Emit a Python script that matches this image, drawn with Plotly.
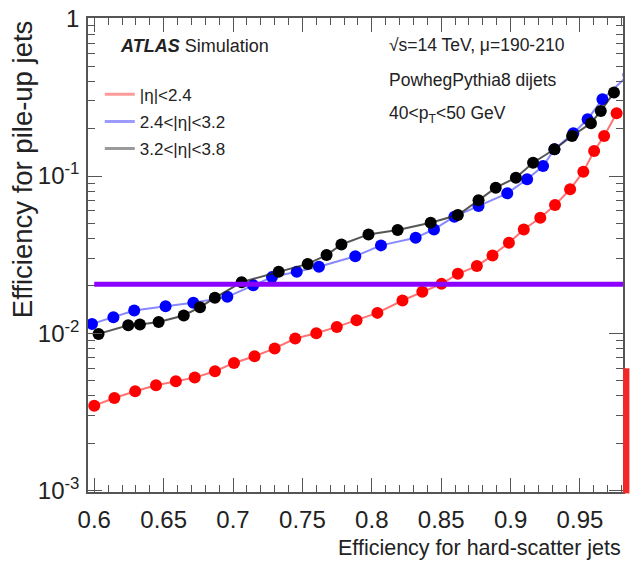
import plotly.graph_objects as go

# ---------------- data ----------------
eff_hs_red = [0.600, 0.6145, 0.6295, 0.6445, 0.6588, 0.6724, 0.687, 0.7007, 0.7155, 0.730,
              0.7448, 0.760, 0.7748, 0.789, 0.804, 0.8221, 0.8364, 0.8502, 0.862, 0.8757,
              0.887, 0.8988, 0.9095, 0.9214, 0.932, 0.9429, 0.9524, 0.9602, 0.9674, 0.9764]
eff_pu_red = [0.00346, 0.00387, 0.00427, 0.00467, 0.00494, 0.00522, 0.00573, 0.00647, 0.00714, 0.0080,
              0.00925, 0.0100, 0.01097, 0.0121, 0.01347, 0.01615, 0.01833, 0.0206, 0.02387, 0.02673,
              0.03126, 0.0376, 0.0457, 0.0542, 0.0653, 0.0823, 0.1065, 0.1443, 0.1798, 0.2508]

eff_hs_blue = [0.5984, 0.6138, 0.6288, 0.6514, 0.6714, 0.6959, 0.7145, 0.7281, 0.7459, 0.7619,
               0.7881, 0.8066, 0.8316, 0.8448, 0.8595, 0.8769, 0.8976, 0.9119, 0.9234, 0.9316,
               0.9452, 0.9555, 0.9662, 0.985]
eff_pu_blue = [0.01146, 0.01265, 0.01395, 0.01486, 0.0156, 0.01703, 0.02022, 0.02274, 0.02457, 0.02644,
               0.0309, 0.0362, 0.0405, 0.0457, 0.0551, 0.0644, 0.0776, 0.0953, 0.1158, 0.1479,
               0.187, 0.2297, 0.3081, 0.44]

eff_hs_black = [0.6031, 0.6245, 0.6329, 0.6464, 0.6645, 0.6762, 0.6869, 0.7062, 0.7329, 0.7538,
                0.7674, 0.7781, 0.7976, 0.8186, 0.8424, 0.862, 0.8769, 0.8893, 0.9038, 0.9162,
                0.9316, 0.9443, 0.9579, 0.965, 0.9745]
eff_pu_black = [0.0099, 0.01125, 0.01136, 0.0118, 0.01297, 0.01465, 0.0168, 0.02113, 0.02457, 0.0276,
                0.0314, 0.0367, 0.0425, 0.0453, 0.0504, 0.0565, 0.0700, 0.0843, 0.0976, 0.1215,
                0.1479, 0.1798, 0.2167, 0.2594, 0.3394]

series_labels = ["|η|<2.4", "2.4<|η|<3.2", "3.2<|η|<3.8"]
working_point = 0.0205

y_tickvals = [0.001, 0.01, 0.1, 1]
y_ticktext = ["10<sup>-3</sup>", "10<sup>-2</sup>", "10<sup>-1</sup>", "1"]

# ---------------- styling ----------------
FONT = "Liberation Sans, Arial, Helvetica, sans-serif"
TXT = "#222222"
FRAME = "#555555"

fig = go.Figure()

series = [
    (eff_hs_red, eff_pu_red, "rgba(255,40,40,0.65)", "#ff0000", "#ff9a9a"),
    (eff_hs_blue, eff_pu_blue, "rgba(40,40,255,0.55)", "#0000ff", "#9a9aff"),
    (eff_hs_black, eff_pu_black, "rgba(30,30,30,0.75)", "#000000", "#9a9a9a"),
]
for (xs, ys, lc, mc, pale), lab in zip(series, series_labels):
    fig.add_trace(go.Scatter(x=xs, y=ys, mode="lines+markers",
                             line=dict(color=lc, width=2),
                             marker=dict(color=mc, size=12, line=dict(width=0)),
                             showlegend=False, name=lab))
for i, ((xs, ys, lc, mc, pale), lab) in enumerate(zip(series, series_labels)):
    fig.add_trace(go.Scatter(x=[None], y=[None], mode="lines",
                             line=dict(color=pale, width=3), name=lab,
                             legendgroup=f"g{i}", showlegend=True))

# working point line
fig.add_shape(type="line", xref="x", yref="y", x0=0.6, x1=1.0,
              y0=working_point, y1=working_point,
              line=dict(color="#8c00ff", width=5), layer="above")
# red bar at right edge (cut-off element from the original)
fig.add_shape(type="rect", xref="paper", yref="paper", x0=1.0, x1=1.012,
              y0=-0.003, y1=0.261, line=dict(width=0), fillcolor="#f02828")

ann = []
def text(xp, yp, s, size=17.5, xanchor="left", yanchor="middle", angle=0):
    ann.append(dict(x=xp, y=yp, xref="paper", yref="paper", text=s, showarrow=False,
                    xanchor=xanchor, yanchor=yanchor, textangle=angle,
                    font=dict(family=FONT, size=size, color=TXT)))

text(0.0559, 0.941, "<b><i>ATLAS</i></b> Simulation", size=18)
text(0.5587, 0.943, "√s=14 TeV, μ=190-210")
text(0.5587, 0.869, "PowhegPythia8 dijets")
text(0.5587, 0.796, "40<p<sub>T</sub><50 GeV")
text(1.0, -0.118, "Efficiency for hard-scatter jets", size=21.5, xanchor="right")
text(-0.123, 1.0, "Efficiency for pile-up jets", size=27.5, xanchor="center",
     yanchor="top", angle=-90)

fig.update_layout(
    width=630, height=563, autosize=False,
    margin=dict(l=88, r=5, t=17, b=71),
    plot_bgcolor="white", paper_bgcolor="white",
    font=dict(family=FONT, color=TXT),
    annotations=ann,
    legend=dict(x=0.022, y=0.876, xanchor="left", yanchor="top",
                font=dict(family=FONT, size=17, color=TXT),
                bgcolor="rgba(0,0,0,0)", tracegroupgap=2, itemwidth=30),
    xaxis=dict(range=[0.5955, 0.981], tick0=0.6, dtick=0.05, ticks="inside",
               ticklen=14, tickwidth=1, tickcolor=FRAME,
               minor=dict(dtick=0.01, tick0=0.6, ticks="inside", ticklen=7,
                          tickwidth=1, tickcolor=FRAME, showgrid=False),
               showline=True, linecolor=FRAME, linewidth=1.5, mirror="allticks",
               showgrid=False, zeroline=False,
               tickfont=dict(family=FONT, size=24, color=TXT), ticklabelstandoff=5),
    yaxis=dict(type="log", range=[-3.01, 0.005], tickmode="array",
               tickvals=y_tickvals, ticktext=y_ticktext, ticks="inside",
               ticklen=14, tickwidth=1, tickcolor=FRAME,
               minor=dict(tickmode="array",
                          tickvals=[m * 10 ** e for e in (-3, -2, -1) for m in range(2, 10)],
                          ticks="inside", ticklen=7, tickwidth=1, tickcolor=FRAME,
                          showgrid=False),
               showline=True, linecolor=FRAME, linewidth=1.5, mirror="allticks",
               showgrid=False, zeroline=False,
               tickfont=dict(family=FONT, size=24, color=TXT), ticklabelstandoff=2),
)

fig.write_html("out.html")
